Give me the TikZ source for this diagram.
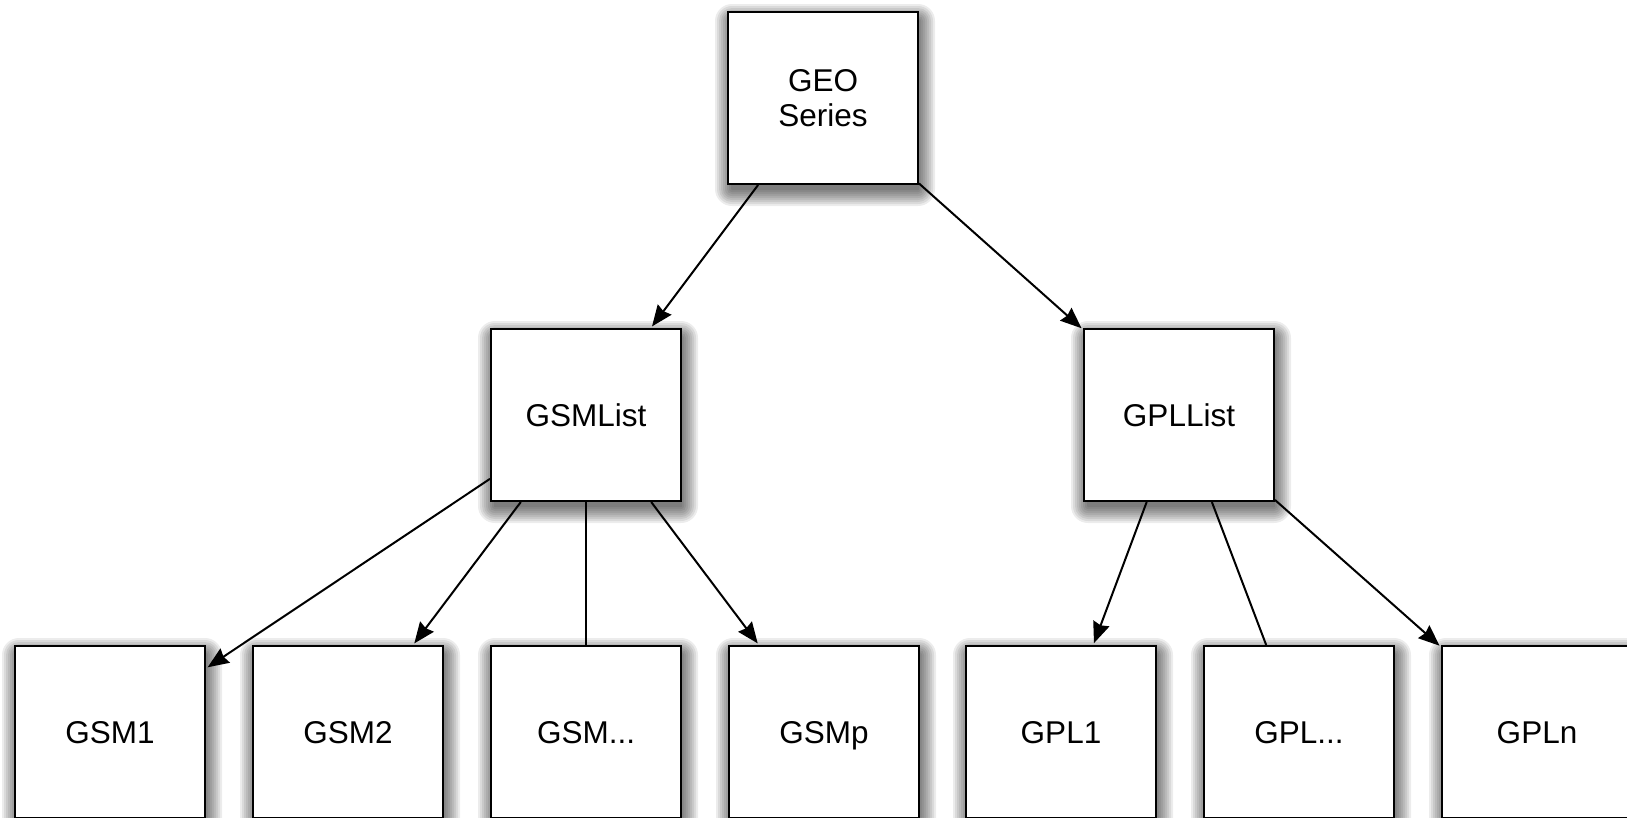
\documentclass[tikz,border=0pt]{standalone}
\usepackage{fontspec}
\setmainfont{Liberation Sans}
\usetikzlibrary{arrows.meta,backgrounds}

\tikzset{
  box/.style={draw=black, line width=2pt, fill=white, minimum width=190pt,
    minimum height=172pt, inner sep=0pt, align=center,
    font=\fontsize{31.5}{35}\selectfont},
  leaf/.style={box, text height=23pt, text depth=0pt},
  link/.style={line width=2pt, draw=black},
  arrowlink/.style={link, shorten >=2pt,
    -{Stealth[inset=2pt, length=21pt, width=17pt]}},
  shadowlayer/.style={fill=black, fill opacity=0.075}
}

\begin{document}
\begin{tikzpicture}[x=1pt, y=-1pt]
  \useasboundingbox (0,0) rectangle (1627,817);
  \clip (0,0) rectangle (1627,817);

  % root and the two list nodes
  \node[box] (geo) at (823,98) {GEO\\Series};
  \node[leaf] (gsmlist) at (586,415) {GSMList};
  \node[leaf] (gpllist) at (1179,415) {GPLList};

  % leaf row
  \node[leaf] (gsm1) at (110,732) {GSM1};
  \node[leaf] (gsm2) at (348,732) {GSM2};
  \node[leaf] (gsmdots) at (586,732) {GSM...};
  \node[leaf] (gsmp) at (824,732) {GSMp};
  \node[leaf] (gpl1) at (1061,732) {GPL1};
  \node[leaf] (gpldots) at (1299,732) {GPL...};
  \node[leaf] (gpln) at (1537,732) {GPLn};

  % soft drop shadows: stacked translucent rectangles behind every box
  \begin{pgfonlayer}{background}
    \fill[white] (0,0) rectangle (1627,817);
    \foreach \n in {geo,gsmlist,gpllist,gsm1,gsm2,gsmdots,gsmp,gpl1,gpldots,gpln}{
      \foreach \k in {-2,0,...,14}{
        \fill[shadowlayer, rounded corners={(\k+3)*1pt}]
          ([shift={(2-\k,7-\k)}]\n.north west) rectangle
          ([shift={(2+\k,7+\k)}]\n.south east);
      }
    }
  \end{pgfonlayer}

  % connectors
  \draw[arrowlink] (geo) -- (gsmlist);
  \draw[arrowlink] (geo) -- (gpllist);

  \draw[arrowlink] (gsmlist) -- (gsm1);
  \draw[arrowlink] (gsmlist) -- (gsm2);
  \draw[link] (gsmlist) -- (gsmdots);
  \draw[arrowlink] (gsmlist) -- (gsmp);

  \draw[arrowlink] (gpllist) -- (gpl1);
  \draw[link] (gpllist) -- (gpldots);
  \draw[arrowlink] (gpllist) -- (gpln);
\end{tikzpicture}
\end{document}
